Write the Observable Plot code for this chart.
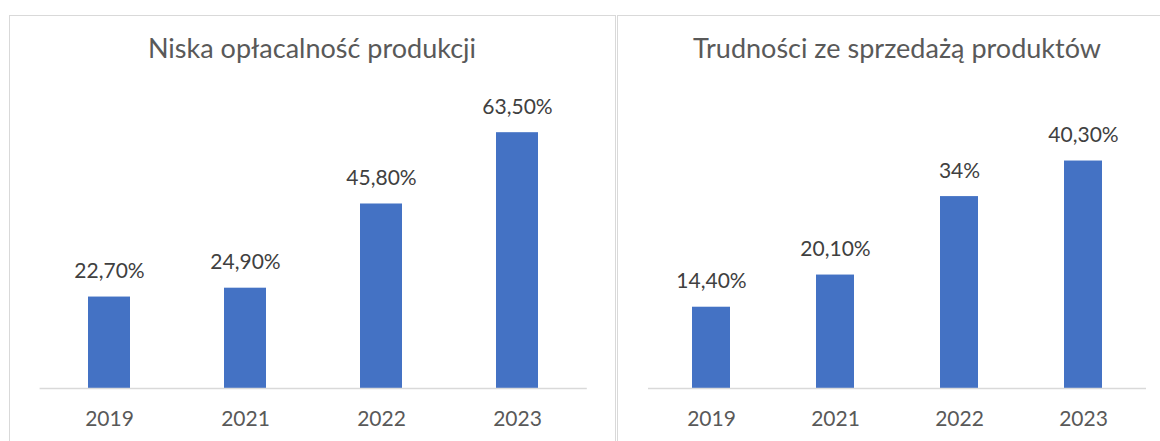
<!DOCTYPE html>
<html>
<head>
<meta charset="utf-8">
<script src="https://cdn.jsdelivr.net/npm/d3@7"></script>
<script src="https://cdn.jsdelivr.net/npm/@observablehq/plot@0.6"></script>
<style>
  html, body { margin: 0; padding: 0; background: #fff; }
  #wrap { position: relative; width: 1160px; height: 441px; overflow: hidden; font-family: Lato, "Noto Sans", sans-serif; }
  .panel { position: absolute; box-sizing: border-box; }
  #p1 { left: 9px; top: 15px; width: 607px; height: 460px; border: 1.6px solid #d9d9d9; }
  #p2 { left: 617px; top: 15px; width: 560px; height: 460px; border: 1.6px solid #d9d9d9; }
  .title { position: absolute; top: 32px; font-size: 27px; line-height: 1.2; color: #595959; white-space: nowrap; transform: translateX(-50%); }
  .chart { position: absolute; top: 0; }
</style>
</head>
<body>
<div id="wrap">
  <div class="panel" id="p1"></div>
  <div class="panel" id="p2"></div>
  <div class="title" id="t1" style="left:312px"></div>
  <div class="title" id="t2" style="left:897px"></div>
  <div class="chart" id="c1" style="left:0px"></div>
  <div class="chart" id="c2" style="left:616px"></div>
</div>
<script>
const years = ["2019", "2021", "2022", "2023"];

const title1 = "Niska opłacalność produkcji";
const values1 = [22.7, 24.9, 45.8, 63.5];
const labels1 = ["22,70%", "24,90%", "45,80%", "63,50%"];

const title2 = "Trudności ze sprzedażą produktów";
const values2 = [14.4, 20.1, 34.0, 40.3];
const labels2 = ["14,40%", "20,10%", "34%", "40,30%"];

function chart(values, labels, opts) {
  const data = years.map((y, i) => ({year: y, value: values[i], label: labels[i]}));
  return Plot.plot({
    width: opts.width,
    height: 441,
    marginLeft: opts.marginLeft,
    marginRight: opts.marginRight,
    marginTop: opts.marginTop,
    marginBottom: 53,
    style: {fontFamily: "Lato, 'Noto Sans', sans-serif", background: "transparent", overflow: "visible"},
    x: {domain: years, paddingInner: 0.69, paddingOuter: 0.345, axis: null},
    y: {domain: [0, opts.ymax], axis: null},
    marks: [
      Plot.barY(data, {x: "year", y: "value", fill: "#4472C4"}),
      Plot.ruleY([0], {stroke: "#d9d9d9", strokeWidth: 1.6}),
      Plot.text(data, {x: "year", y: "value", text: "label", dy: -19, lineAnchor: "bottom", fill: "#404040", fontSize: 21}),
      Plot.axisX({tickSize: 0, tickPadding: 23, fontSize: 21, fill: "#595959", label: null})
    ]
  });
}

document.getElementById("t1").textContent = title1;
document.getElementById("t2").textContent = title2;
document.getElementById("c1").appendChild(chart(values1, labels1, {width: 616, marginLeft: 39.6, marginRight: 29.2, marginTop: 106, ymax: 70}));
document.getElementById("c2").appendChild(chart(values2, labels2, {width: 544, marginLeft: 32, marginRight: 14, marginTop: 134, ymax: 45}));
</script>
</body>
</html>
